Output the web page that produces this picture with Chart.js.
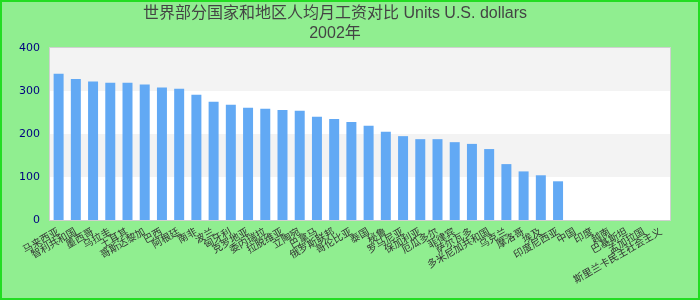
<!DOCTYPE html>
<html>
<head>
<meta charset="utf-8">
<script src="https://cdn.jsdelivr.net/npm/chart.js@4/dist/chart.umd.min.js"></script>
<style>
    html, body { margin: 0; padding: 0; background: #90ee90; }
    #grafico-wrap { width: 700px; height: 300px; position: relative; }
</style>
</head>
<body>
<div id="grafico-wrap"><canvas id="barChart"></canvas></div>
<script>
// Dados do gráfico
const tituloLinhas = ["世界部分国家和地区人均月工资对比 Units U.S. dollars", "2002年"];
const categorias = [
    "马来西亚", "智利共和国", "墨西哥", "乌拉圭", "土耳其", "哥斯达黎加", "巴西",
    "阿根廷", "南非", "波兰", "匈牙利", "克罗地亚", "委内瑞拉", "拉脱维亚",
    "立陶宛", "巴拿马", "俄罗斯联邦", "哥伦比亚", "泰国", "秘鲁", "罗马尼亚",
    "保加利亚", "厄瓜多尔", "菲律宾", "萨尔瓦多", "多米尼加共和国", "乌克兰",
    "摩洛哥", "埃及", "印度尼西亚", "中国", "印度", "越南", "巴基斯坦",
    "孟加拉国", "斯里兰卡民主社会主义"
];
const valores = [
    340, 328, 322, 319, 319, 315, 308, 305, 291, 275, 268, 261, 259, 256, 254,
    240, 235, 228, 219, 205, 195, 188, 188, 181, 177, 165, 130, 113, 104, 90,
    null, null, null, null, null, null
];
const ticksY = [0, 100, 200, 300, 400];

// Faixas alternadas (cinza / branco) no fundo da área do gráfico + bordas
const pluginFundo = {
    id: "fundo",
    beforeDatasetsDraw(chart) {
        const { ctx, chartArea, scales } = chart;
        ctx.save();
        for (let i = 0; i < ticksY.length - 1; i++) {
            const yTopo = scales.y.getPixelForValue(ticksY[i + 1]);
            const yBase = scales.y.getPixelForValue(ticksY[i]);
            ctx.fillStyle = i % 2 === 1 ? "#f3f3f3" : "#ffffff";
            ctx.fillRect(chartArea.left, yTopo, chartArea.right - chartArea.left, yBase - yTopo);
        }
        ctx.restore();
    },
    afterDraw(chart) {
        const { ctx, chartArea, width, height } = chart;
        ctx.save();
        ctx.strokeStyle = "#d0d0d0";
        ctx.lineWidth = 1;
        ctx.strokeRect(chartArea.left - 0.5, chartArea.top - 0.5,
            chartArea.right - chartArea.left + 1, chartArea.bottom - chartArea.top + 1);
        // Borda externa verde
        ctx.strokeStyle = "#22dd22";
        ctx.lineWidth = 2;
        ctx.strokeRect(1, 1, width - 2, height - 2);
        ctx.restore();
    }
};

const ctx = document.getElementById("barChart").getContext("2d");
new Chart(ctx, {
    type: "bar",
    data: {
        labels: categorias,
        datasets: [{
            data: valores,
            backgroundColor: "#62a9f4",
            borderWidth: 0,
            categoryPercentage: 1,
            barPercentage: 0.58
        }]
    },
    options: {
        responsive: true,
        maintainAspectRatio: false,
        animation: false,
        layout: { padding: { left: 0, right: 30, top: 0, bottom: 0 } },
        plugins: {
            legend: { display: false },
            tooltip: { enabled: false },
            title: {
                display: true,
                text: tituloLinhas,
                color: "#444444",
                font: { family: "'Liberation Sans', 'Noto Sans CJK SC', sans-serif", size: 16, weight: "normal", lineHeight: 1.25 },
                padding: { top: 4, bottom: 4 }
            }
        },
        scales: {
            x: {
                grid: { display: false, drawTicks: false },
                border: { display: false },
                ticks: {
                    autoSkip: false,
                    minRotation: 30,
                    maxRotation: 30,
                    color: "#333333",
                    padding: 6,
                    font: { family: "'DejaVu Sans', 'Noto Sans CJK SC', sans-serif", size: 10 }
                },
                afterFit: (scale) => { scale.height = 80; }
            },
            y: {
                min: 0,
                max: 400,
                grid: { display: false, drawTicks: false },
                border: { display: false },
                ticks: {
                    stepSize: 100,
                    color: "#000080",
                    padding: 10,
                    font: { family: "'DejaVu Sans', sans-serif", size: 11 }
                },
                afterFit: (scale) => { scale.width = 50; }
            }
        }
    },
    plugins: [pluginFundo]
});
</script>
</body>
</html>
